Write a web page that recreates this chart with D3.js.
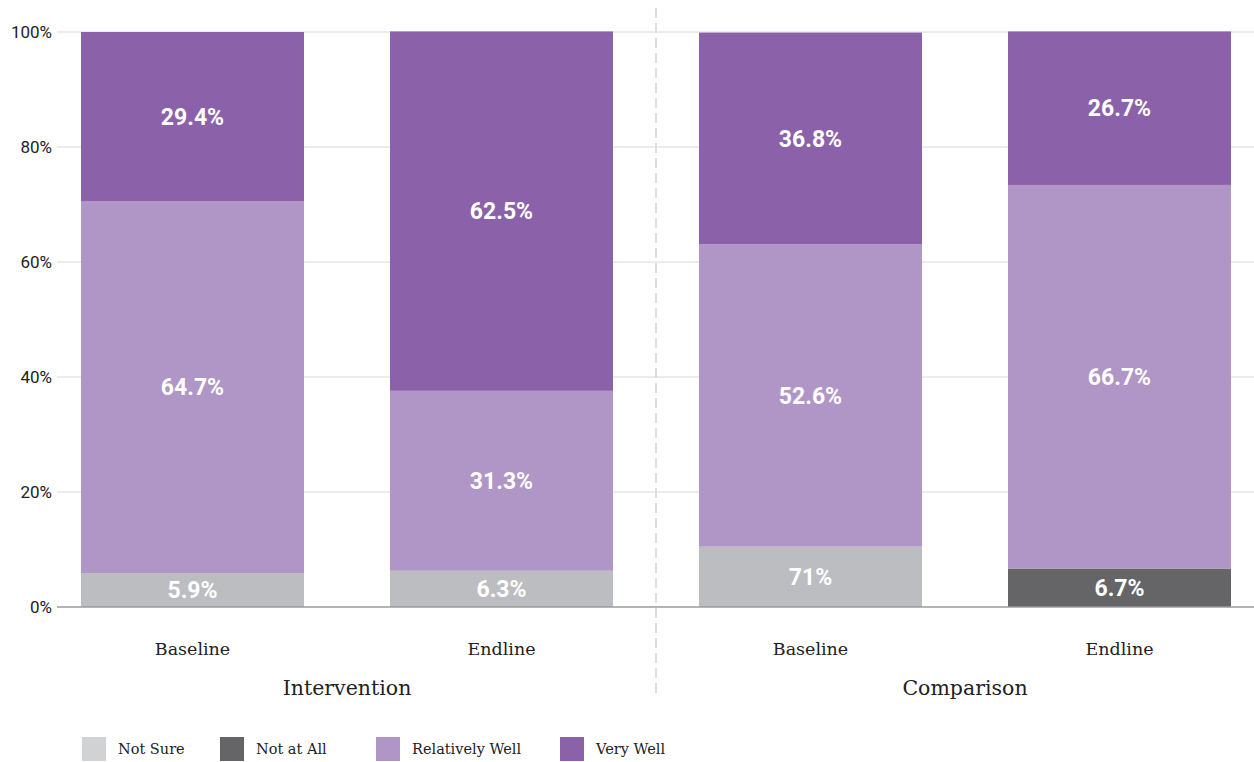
<!DOCTYPE html>
<html>
<head>
<meta charset="utf-8">
<script src="https://cdn.jsdelivr.net/npm/d3@7/dist/d3.min.js"></script>
<style>
  html, body { margin: 0; padding: 0; background: #fff; }
  svg { display: block; }
</style>
</head>
<body>
<svg id="chart" width="1254" height="762"></svg>
<script>
// Bars, in drawing order (left to right)
const barKeys   = ["int-base", "int-end", "cmp-base", "cmp-end"];
const barLabels = ["Baseline", "Endline", "Baseline", "Endline"];
const groups    = ["Intervention", "Comparison"];
const barGroup  = ["Intervention", "Intervention", "Comparison", "Comparison"];

// Series values (percent)
const notSure        = [5.9, 6.3, 10.5, 0];
const notAtAll       = [0, 0, 0, 6.7];
const relativelyWell = [64.7, 31.3, 52.6, 66.7];
const veryWell       = [29.4, 62.5, 36.8, 26.7];

// Printed labels for the Not Sure segments
const notSureText = ["5.9%", "6.3%", "71%", ""];

const seriesNames = ["Not Sure", "Not at All", "Relatively Well", "Very Well"];
const yTicks = [0, 20, 40, 60, 80, 100];

const colors = {
  "Not Sure": "#bcbdc0",
  "Not at All": "#656567",
  "Relatively Well": "#b096c6",
  "Very Well": "#8b62a9"
};
const legendColors = {
  "Not Sure": "#d1d2d4",
  "Not at All": "#656567",
  "Relatively Well": "#b096c6",
  "Very Well": "#8b62a9"
};

const seriesValues = {
  "Not Sure": notSure,
  "Not at All": notAtAll,
  "Relatively Well": relativelyWell,
  "Very Well": veryWell
};

const rows = barKeys.map((k, i) => {
  const r = { key: k };
  seriesNames.forEach(s => r[s] = seriesValues[s][i]);
  return r;
});

const svg = d3.select("#chart");
const plotLeft = 57, plotRight = 1254, plotTop = 32, plotBottom = 607;

const y = d3.scaleLinear().domain([0, 100]).range([plotBottom, plotTop]);
const x = d3.scaleBand()
  .domain(barKeys)
  .range([38, 1274])
  .paddingInner(0.2783)
  .paddingOuter(0.2783 / 2);

const sansFont = "Roboto, 'Noto Sans', sans-serif";
const slabFont = "'DejaVu Serif', serif";

// Grid lines
svg.append("g")
  .selectAll("line")
  .data(yTicks.filter(t => t > 0))
  .join("line")
  .attr("x1", plotLeft).attr("x2", plotRight)
  .attr("y1", d => y(d)).attr("y2", d => y(d))
  .attr("stroke", "#d8d8d8").attr("stroke-width", 1);

// Y tick labels
svg.append("g")
  .selectAll("text")
  .data(yTicks)
  .join("text")
  .attr("x", 52)
  .attr("y", d => y(d))
  .attr("dy", "0.38em")
  .attr("text-anchor", "end")
  .attr("font-family", sansFont)
  .attr("font-size", 17)
  .attr("fill", "#222")
  .text(d => d + "%");

// Divider between the two groups
const midX = (x(barKeys[1]) + x.bandwidth() + x(barKeys[2])) / 2;
svg.append("line")
  .attr("x1", midX).attr("x2", midX)
  .attr("y1", 8).attr("y2", 698)
  .attr("stroke", "#dedede")
  .attr("stroke-width", 2)
  .attr("stroke-dasharray", "10,5");

// Stacked bars
const stack = d3.stack().keys(seriesNames);
const stacked = stack(rows);

const layer = svg.append("g")
  .selectAll("g")
  .data(stacked)
  .join("g")
  .attr("fill", d => colors[d.key]);

layer.selectAll("rect")
  .data(d => d)
  .join("rect")
  .attr("x", d => x(d.data.key))
  .attr("width", x.bandwidth())
  .attr("y", d => y(d[1]))
  .attr("height", d => y(d[0]) - y(d[1]));

// Value labels
const labelData = [];
stacked.forEach(s => {
  s.forEach((d, i) => {
    const v = d[1] - d[0];
    if (v <= 0) return;
    const txt = s.key === "Not Sure" ? notSureText[i] : v.toFixed(1) + "%";
    labelData.push({ key: d.data.key, mid: (d[0] + d[1]) / 2, txt });
  });
});

svg.append("g")
  .selectAll("text")
  .data(labelData)
  .join("text")
  .attr("x", d => x(d.key) + x.bandwidth() / 2)
  .attr("y", d => y(d.mid))
  .attr("dy", "0.36em")
  .attr("text-anchor", "middle")
  .attr("font-family", sansFont)
  .attr("font-weight", 700)
  .attr("font-size", 23)
  .attr("fill", "#fff")
  .text(d => d.txt);

// Zero baseline
svg.append("line")
  .attr("x1", plotLeft).attr("x2", plotRight)
  .attr("y1", y(0)).attr("y2", y(0))
  .attr("stroke", "#9b9b9b").attr("stroke-width", 1.5);

// Bar category labels
svg.append("g")
  .selectAll("text")
  .data(barKeys)
  .join("text")
  .attr("x", d => x(d) + x.bandwidth() / 2)
  .attr("y", 655)
  .attr("text-anchor", "middle")
  .attr("font-family", slabFont)
  .attr("font-size", 17.5)
  .attr("fill", "#222")
  .text((d, i) => barLabels[i]);

// Group labels
svg.append("g")
  .selectAll("text")
  .data(groups)
  .join("text")
  .attr("x", g => {
    const ks = barKeys.filter((k, i) => barGroup[i] === g);
    return d3.mean(ks, k => x(k) + x.bandwidth() / 2);
  })
  .attr("y", 695)
  .attr("text-anchor", "middle")
  .attr("font-family", slabFont)
  .attr("font-size", 20.5)
  .attr("fill", "#222")
  .text(d => d);

// Legend
const legendX = [82, 220, 376, 560];
const legend = svg.append("g")
  .selectAll("g")
  .data(seriesNames)
  .join("g")
  .attr("transform", (d, i) => `translate(${legendX[i]},737)`);

legend.append("rect")
  .attr("width", 24).attr("height", 24)
  .attr("fill", d => legendColors[d]);

legend.append("text")
  .attr("x", 36)
  .attr("y", 12)
  .attr("dy", "0.36em")
  .attr("font-family", slabFont)
  .attr("font-size", 14.5)
  .attr("fill", "#222")
  .text(d => d);
</script>
</body>
</html>
